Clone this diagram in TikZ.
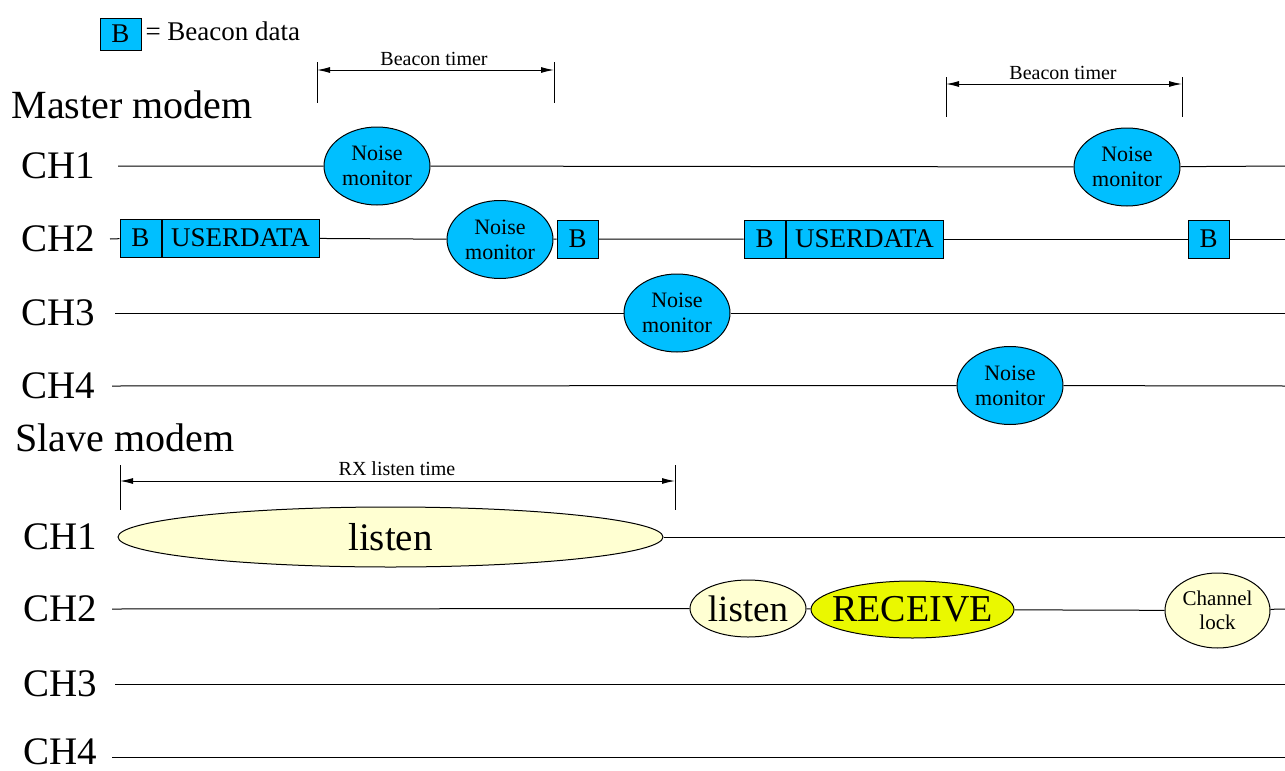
\documentclass[tikz,border=0pt]{standalone}
\usepackage{fontspec}
\setmainfont{Liberation Serif}
\usetikzlibrary{shapes.geometric,arrows.meta}

\definecolor{beacon}{HTML}{00BFFF}
\definecolor{listenfill}{HTML}{FFFFD2}
\definecolor{rxfill}{HTML}{EAF800}

\tikzset{
  chlabel/.style={font=\fontsize{39}{41}\selectfont, inner sep=0pt},
  modem/.style={font=\fontsize{40}{42}\selectfont, inner sep=0pt},
  noise/.style={ellipse, draw, fill=beacon, minimum width=106pt, minimum height=78pt,
                inner sep=0pt, align=center, font=\fontsize{22}{25}\selectfont},
  bbox/.style={rectangle, draw, fill=beacon, minimum width=41pt, minimum height=38pt,
               inner sep=0pt, font=\fontsize{27}{29}\selectfont},
  dbox/.style={bbox, minimum width=157pt},
  listenshape/.style={ellipse, draw, fill=listenfill, inner xsep=-25pt, inner ysep=-8pt, align=center},
  timer/.style={font=\fontsize{20}{22}\selectfont, inner sep=0pt},
  dim/.style={{Latex[length=13pt,width=6pt]}-{Latex[length=13pt,width=6pt]}}
}

\begin{document}
\begin{tikzpicture}[x=1pt,y=-1pt,line width=1pt]
\useasboundingbox (0,0) rectangle (1285,771);

% legend
\node[bbox, minimum height=32pt] (legb) at (120.5,34) {B};
\node[anchor=west, inner sep=0pt, font=\fontsize{27}{29}\selectfont] (legt) at (145,31) {= Beacon data};

% master modem
\node[modem] (master) at (132,105) {Master modem};
\foreach \i/\y in {1/166,2/239,3/313,4/386}
  \node[chlabel] (mch\i) at (58,\y) {CH\i};

% beacon timers
\coordinate (bt1a) at (317,62);  \coordinate (bt1b) at (317,103);
\coordinate (bt1c) at (554,62);  \coordinate (bt1d) at (554,103);
\draw (bt1a) -- (bt1b);
\draw (bt1c) -- (bt1d);
\draw[dim] (317,70) -- (554,70);
\node[timer] (bt1) at (434,59) {Beacon timer};

\coordinate (bt2a) at (946,77);  \coordinate (bt2b) at (946,117);
\coordinate (bt2c) at (1182,77); \coordinate (bt2d) at (1182,117);
\draw (bt2a) -- (bt2b);
\draw (bt2c) -- (bt2d);
\draw[dim] (946,84) -- (1182,84);
\node[timer] (bt2) at (1063,73) {Beacon timer};

% CH1
\node[noise] (nm1) at (377,166) {Noise\\monitor};
\node[noise] (nm5) at (1127,167) {Noise\\monitor};
\coordinate (m1s) at (118,166);
\coordinate (m1e) at (1285,166);
\draw (m1s) -- (nm1) -- (nm5) -- (m1e);

% CH2
\node[bbox] (b1) at (140.5,238) {B};
\node[dbox, anchor=west] (u1) at (b1.east) {USERDATA};
\node[noise] (nm2) at (500,239.5) {Noise\\monitor};
\node[bbox] (b2) at (577.5,239) {B};
\node[bbox] (b3) at (764.5,239) {B};
\node[dbox, anchor=west] (u3) at (b3.east) {USERDATA};
\node[bbox] (b4) at (1208.5,239) {B};
\coordinate (m2s) at (110,239);
\coordinate (m2e) at (1285,239);
\draw (m2s) -- (b1);
\draw (u1) -- (nm2) -- (b2) -- (b3);
\draw (u3) -- (b4) -- (m2e);

% CH3
\node[noise] (nm3) at (677,313) {Noise\\monitor};
\coordinate (m3s) at (115,313);
\coordinate (m3e) at (1285,313);
\draw (m3s) -- (nm3) -- (m3e);

% CH4
\node[noise] (nm4) at (1010,385.5) {Noise\\monitor};
\coordinate (m4s) at (112,386);
\coordinate (m4e) at (1285,386);
\draw (m4s) -- (nm4) -- (m4e);

% slave modem
\node[modem] (slave) at (125,438) {Slave modem};
\foreach \i/\y in {1/537,2/609,3/684,4/752}
  \node[chlabel] (sch\i) at (60,\y) {CH\i};

% RX listen time
\coordinate (rxa) at (120,465); \coordinate (rxb) at (120,510);
\coordinate (rxc) at (675,465); \coordinate (rxd) at (675,510);
\draw (rxa) -- (rxb);
\draw (rxc) -- (rxd);
\draw[dim] (120,481) -- (675,481);
\node[timer] (rxt) at (397,469) {RX listen time};

% CH1
\node[listenshape, minimum width=545pt, minimum height=60pt,
      font=\fontsize{39}{41}\selectfont] (lsn1) at (390.5,537) {listen};
\coordinate (s1e) at (1285,537);
\draw (lsn1) -- (s1e);

% CH2
\node[listenshape, minimum width=116pt, minimum height=57pt,
      font=\fontsize{37}{39}\selectfont] (lsn2) at (748,608.5) {listen};
\node[listenshape, fill=rxfill, minimum width=203pt, minimum height=57pt,
      font=\fontsize{38}{40}\selectfont] (rcv) at (912.5,609.5) {RECEIVE};
\node[listenshape, inner sep=0pt, minimum width=105pt, minimum height=75pt,
      font=\fontsize{21}{24}\selectfont] (lock) at (1217.5,610.5) {Channel\\lock};
\coordinate (s2s) at (112,609);
\coordinate (s2e) at (1285,609);
\draw (s2s) -- (lsn2) -- (rcv) -- (lock) -- (s2e);

% CH3, CH4
\coordinate (s3s) at (115,684); \coordinate (s3e) at (1285,684);
\coordinate (s4s) at (112,757); \coordinate (s4e) at (1285,757);
\draw (s3s) -- (s3e);
\draw (s4s) -- (s4e);
\end{tikzpicture}
\end{document}
